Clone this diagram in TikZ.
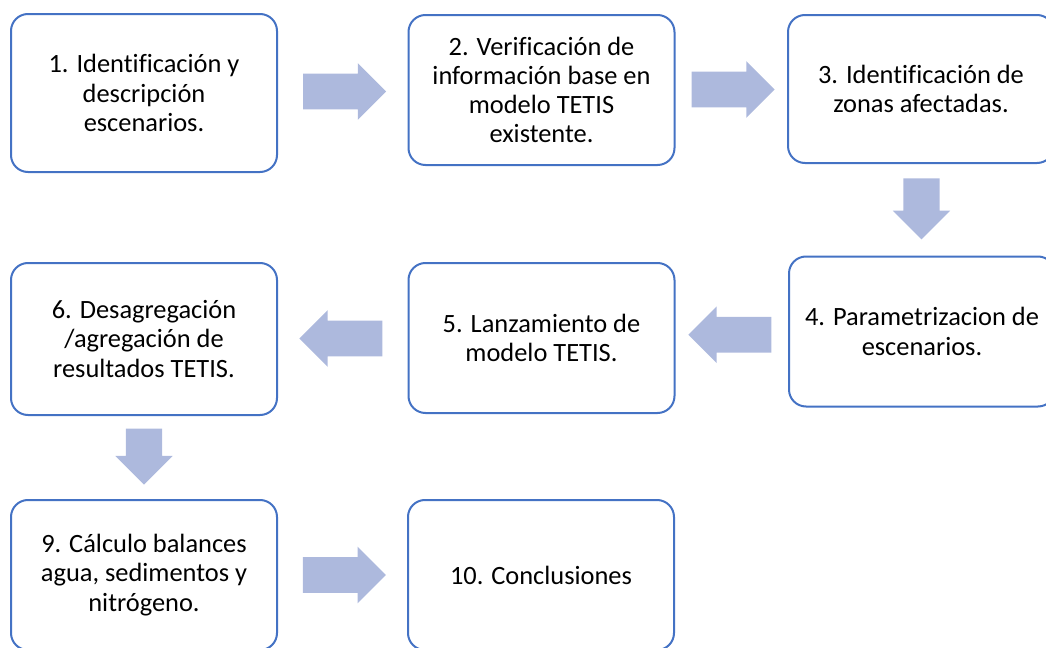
\documentclass[tikz,border=0pt]{standalone}
\usepackage{fontspec}
\setmainfont{Carlito}[Ligatures=CommonOff]
\usepackage{tikz}
\usepackage{xcolor}
\usetikzlibrary{shapes.arrows, positioning}

\definecolor{boxblue}{RGB}{68,114,196}
\definecolor{arrowblue}{RGB}{173,185,221}

\begin{document}
\begin{tikzpicture}[x=0.5pt, y=-0.5pt,
  stage/.style={draw=boxblue, line width=1pt, rounded corners=8.5pt, fill=white,
    minimum width=133pt, minimum height=75pt, align=center,
    font=\fontsize{13.2}{14.6}\selectfont},
  flecha/.style={single arrow, fill=arrowblue, draw=none, inner xsep=0pt, inner ysep=8.75pt,
    minimum height=41.5pt, single arrow head extend=5.25pt, xshift=-3.5pt},
  flechaizq/.style={flecha, shape border rotate=180, xshift=7pt},
  flechabaja/.style={flecha, shape border rotate=270, inner xsep=8.9pt, inner ysep=0pt,
    xshift=3.5pt, yshift=5pt}]
\clip (0,0) rectangle (1046,648); %edit here for the margins
%
\node (paso1) at (144,93) [stage, minimum height=79pt] {1. Identificación y\\descripción\\escenarios.};
\node (paso2) at (541.5,90) [stage] {2. Verificación de\\información base en\\modelo TETIS\\existente.};
\node (paso3) at (921,89) [stage, minimum height=74pt] {3. Identificación de\\zonas afectadas.};
%
\node (paso4) at (922,331.5) [stage] {4. Parametrizacion de\\escenarios.};
\node (paso5) at (541.5,338) [stage] {5. Lanzamiento de\\modelo TETIS.};
\node (paso6) at (144,339) [stage, minimum height=76pt] {6. Desagregación\\/agregación de\\resultados TETIS.};
%
\node (paso9) at (144,575) [stage] {9. Cálculo balances\\agua, sedimentos y\\nitrógeno.};
\node (paso10) at (541,575) [stage] {10. Conclusiones};
%
\path (paso1) -- (paso2) node[midway, flecha]{};
\path (paso2) -- (paso3) node[midway, flecha]{};
\path (paso3) -- (paso4) node[midway, flechabaja, minimum height=30.5pt]{};
\path (paso4) -- (paso5) node[midway, flechaizq]{};
\path (paso5) -- (paso6) node[midway, flechaizq]{};
\path (paso6) -- (paso9) node[midway, flechabaja, minimum height=28pt]{};
\path (paso9) -- (paso10) node[midway, flecha]{};
\end{tikzpicture}
\end{document}
